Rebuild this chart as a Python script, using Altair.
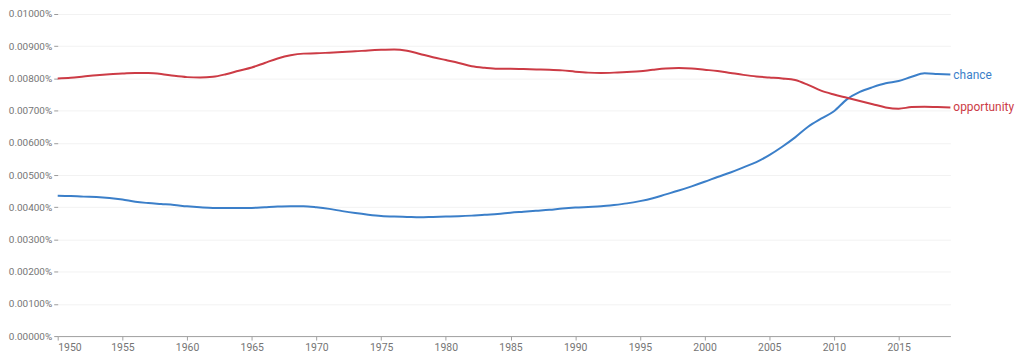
import altair as alt
import pandas as pd

years = list(range(1950, 2020))

# values in percent (e.g. 0.00800 means 0.00800%)
opportunity = [8.00, 8.02, 8.06, 8.10, 8.13, 8.15, 8.17, 8.17, 8.14, 8.08,
               8.04, 8.03, 8.05, 8.13, 8.24, 8.34, 8.48, 8.62, 8.72, 8.77,
               8.78, 8.80, 8.82, 8.84, 8.87, 8.89, 8.90, 8.86, 8.76, 8.66,
               8.57, 8.48, 8.38, 8.33, 8.30, 8.30, 8.29, 8.28, 8.27, 8.25,
               8.21, 8.18, 8.17, 8.18, 8.20, 8.22, 8.27, 8.31, 8.32, 8.31,
               8.27, 8.23, 8.17, 8.11, 8.06, 8.03, 8.00, 7.95, 7.80, 7.62,
               7.50, 7.40, 7.30, 7.20, 7.10, 7.06, 7.11, 7.12, 7.11, 7.10]

chance = [4.36, 4.35, 4.33, 4.32, 4.29, 4.24, 4.17, 4.13, 4.10, 4.07,
          4.03, 4.00, 3.98, 3.98, 3.98, 3.98, 4.00, 4.02, 4.03, 4.03,
          4.00, 3.95, 3.88, 3.82, 3.77, 3.73, 3.71, 3.70, 3.69, 3.70,
          3.71, 3.72, 3.74, 3.77, 3.79, 3.83, 3.86, 3.89, 3.92, 3.96,
          3.99, 4.01, 4.03, 4.07, 4.12, 4.19, 4.28, 4.40, 4.52, 4.65,
          4.79, 4.94, 5.08, 5.24, 5.40, 5.62, 5.88, 6.17, 6.50, 6.75,
          6.98, 7.35, 7.58, 7.73, 7.85, 7.92, 8.05, 8.16, 8.14, 8.12]

series_names = ["chance", "opportunity"]
series_colors = ["#3b7fc9", "#cc3b45"]
y_ticks = [i / 1000 for i in range(0, 11)]
x_ticks = list(range(1950, 2020, 5))

rows = []
for name, vals in zip(series_names, [chance, opportunity]):
    for yr, v in zip(years, vals):
        rows.append({"year": yr, "value": v / 1000, "term": name})
df = pd.DataFrame(rows)
last = df[df["year"] == years[-1]]

color = alt.Color("term:N", scale=alt.Scale(domain=series_names, range=series_colors), legend=None)

x = alt.X("year:Q", scale=alt.Scale(domain=[1950, 2019], nice=False, zero=False),
          axis=alt.Axis(values=x_ticks, tickCount=14, format="d", title=None, grid=False,
                        domainColor="#a0a0a0", tickColor="#a0a0a0", tickSize=4,
                        labelColor="#757575", labelFont="Roboto", labelFontSize=10.5,
                        labelPadding=2, labelOverlap=False))
y = alt.Y("value:Q", scale=alt.Scale(domain=[0, 0.01], nice=False),
          axis=alt.Axis(values=y_ticks, tickCount=11, title=None, domain=False,
                        labelExpr="format(datum.value, '.5f') + '%'",
                        ticks=True, tickSize=4, tickColor="#9a9a9a", tickWidth=1,
                        gridColor="#f2f2f2", labelColor="#757575",
                        labelFont="Roboto", labelFontSize=10, labelPadding=2,
                        labelOverlap=False))

lines = alt.Chart(df).mark_line(interpolate="monotone", strokeWidth=2).encode(
    x=x, y=y, color=color)

labels = alt.Chart(last).mark_text(align="left", baseline="middle", dx=3,
                                   font="Roboto", fontSize=12).encode(
    x="year:Q", y="value:Q", text="term:N", color=color)

chart = alt.layer(lines, labels).properties(
    width=898, height=324,
    autosize=alt.AutoSizeParams(type="none"),
    padding={"left": 50, "top": 5, "right": 66, "bottom": 20},
).configure_view(stroke=None)

chart.save("out.html", embed_options={"renderer": "svg", "actions": False})
